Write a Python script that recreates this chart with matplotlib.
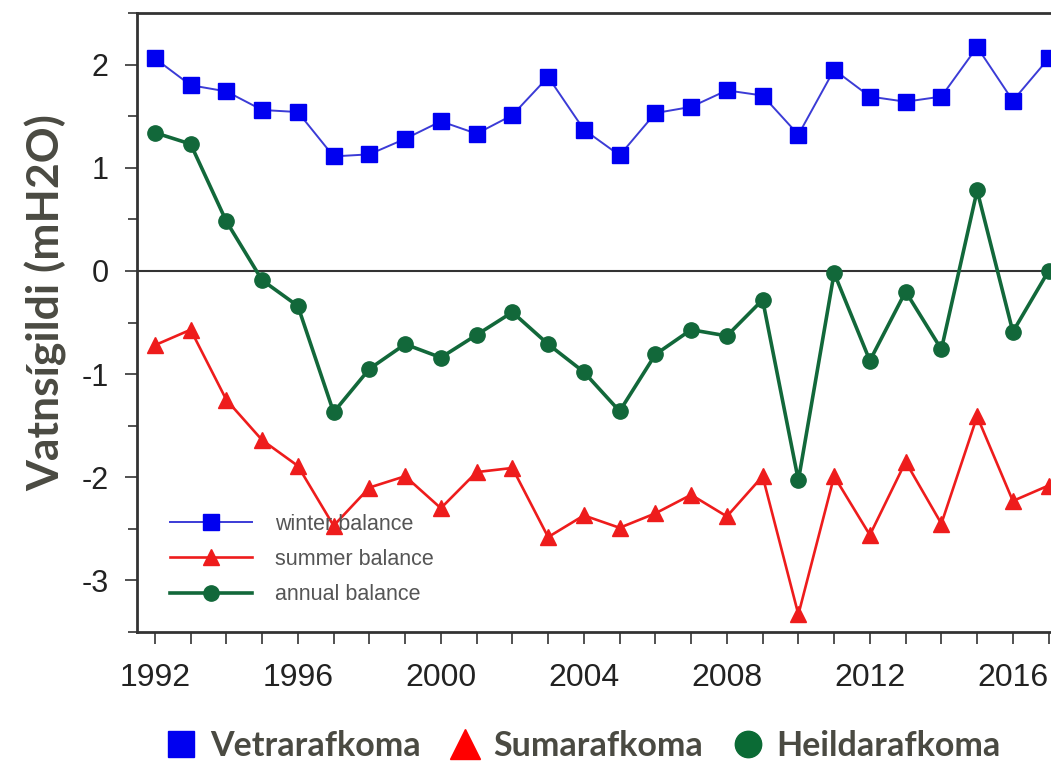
import matplotlib
matplotlib.use("Agg")
import matplotlib.pyplot as plt
from matplotlib.lines import Line2D
from matplotlib.ticker import MultipleLocator

plt.rcParams["axes.unicode_minus"] = False

years = list(range(1992, 2018))
winter = [2.06, 1.80, 1.74, 1.56, 1.54, 1.11, 1.13, 1.28, 1.45, 1.33, 1.51, 1.88, 1.37,
          1.12, 1.53, 1.59, 1.75, 1.70, 1.32, 1.95, 1.69, 1.64, 1.69, 2.17, 1.65, 2.06]
summer = [-0.72, -0.57, -1.25, -1.64, -1.89, -2.47, -2.10, -1.99, -2.30, -1.95, -1.91, -2.58, -2.37,
          -2.49, -2.35, -2.17, -2.38, -1.99, -3.33, -1.99, -2.56, -1.85, -2.45, -1.41, -2.23, -2.08]
annual = [1.34, 1.23, 0.48, -0.09, -0.34, -1.37, -0.95, -0.71, -0.84, -0.62, -0.40, -0.71, -0.98,
          -1.36, -0.81, -0.57, -0.63, -0.28, -2.03, -0.02, -0.87, -0.20, -0.76, 0.78, -0.59, 0.00]
xtick_years = [1992, 1996, 2000, 2004, 2008, 2012, 2016]
ytick_vals = [-3, -2, -1, 0, 1, 2]
inner_labels = ["winter balance", "summer balance", "annual balance"]
outer_labels = ["Vetrarafkoma", "Sumarafkoma", "Heildarafkoma"]
ylabel = "Vatnsígildi (mH2O)"

c_blue_line = "#3b3bd6"
c_blue = "#0000f0"
c_red = "#ee1c1c"
c_green = "#12683a"
c_text = "#4a4a42"

W, H = 1051, 761
fig = plt.figure(figsize=(W / 100, H / 100), dpi=100)
left = 137 / W
bottom = (H - 632) / H
top = (H - 13) / H
width = (26 * 35.75) / W
ax = fig.add_axes([left, bottom, width, top - bottom])

ax.plot(years, winter, color=c_blue_line, lw=1.4, marker="s", ms=11,
        mfc=c_blue, mec=c_blue, label=inner_labels[0], zorder=3)
ax.plot(years, summer, color=c_red, lw=1.9, marker="^", ms=12,
        mfc=c_red, mec=c_red, label=inner_labels[1], zorder=3)
ax.plot(years, annual, color=c_green, lw=2.6, marker="o", ms=11,
        mfc=c_green, mec=c_green, label=inner_labels[2], zorder=3)
ax.axhline(0, color="#333333", lw=1.5, zorder=2)

ax.set_xlim(1991.5, 2017.5)
ax.set_ylim(-3.5, 2.5)
ax.set_xticks(years)
ax.set_xticklabels([str(y) if y in xtick_years else "" for y in years])
ax.set_yticks(ytick_vals)
ax.yaxis.set_minor_locator(MultipleLocator(0.5))
ax.tick_params(axis="x", which="major", direction="out", length=8.6, width=1.2,
               color="#333333", labelsize=23, labelcolor="#222222", pad=14)
ax.tick_params(axis="y", which="major", direction="out", length=8.6, width=1.2,
               color="#333333", labelsize=22, labelcolor="#222222", pad=12)
ax.tick_params(axis="y", which="minor", direction="out", length=6.5, width=1.2,
               color="#333333")
for lab in ax.get_xticklabels() + ax.get_yticklabels():
    lab.set_family(["Liberation Sans", "DejaVu Sans"])
for s in ["left", "bottom", "top"]:
    ax.spines[s].set_color("#333333")
    ax.spines[s].set_linewidth(2)
ax.spines["right"].set_visible(False)

ax.set_ylabel(ylabel, fontsize=32, fontweight="bold", color=c_text,
              family=["Lato", "DejaVu Sans"])
ax.yaxis.set_label_coords(-0.075, 0.533)

leg = ax.legend(loc="lower left", bbox_to_anchor=(0.015, 0.012), frameon=False,
                prop={"family": ["Liberation Sans", "DejaVu Sans"], "size": 15.5},
                handlelength=3.8, handletextpad=1.05, labelspacing=0.66)
for t in leg.get_texts():
    t.set_color("#555555")

handles = [
    Line2D([], [], ls="none", marker="s", ms=19, mfc=c_blue, mec=c_blue),
    Line2D([], [], ls="none", marker="^", ms=21, mfc="#ff0000", mec="#ff0000"),
    Line2D([], [], ls="none", marker="o", ms=19, mfc="#0b6b35", mec="#0b6b35"),
]
fl = fig.legend(handles, outer_labels, loc="center", bbox_to_anchor=(0.554, 0.0197),
                ncol=3, frameon=False, handlelength=1.0, handletextpad=0.35,
                columnspacing=0.8, borderpad=0,
                prop={"family": ["Lato", "DejaVu Sans"], "weight": "bold", "size": 24.5})
for t in fl.get_texts():
    t.set_color(c_text)

fig.savefig("out.png", dpi=100)
